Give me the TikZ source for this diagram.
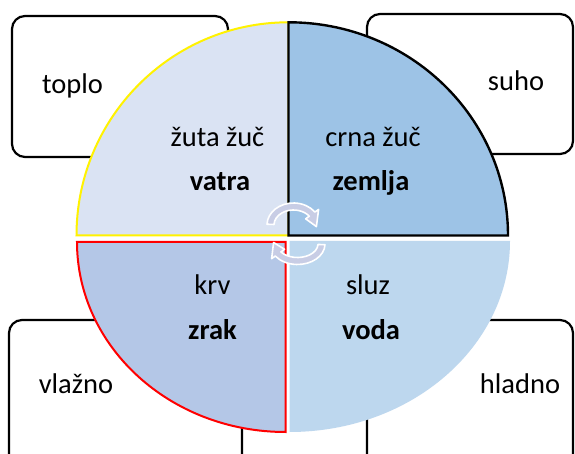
\documentclass[tikz,border=0pt]{standalone}
\usepackage{fontspec}
\setmainfont{Carlito}
\usetikzlibrary{calc}
\definecolor{qtl}{HTML}{DAE3F3}
\definecolor{qtr}{HTML}{9DC3E6}
\definecolor{qbl}{HTML}{B4C7E7}
\definecolor{qbr}{HTML}{BDD7EE}
\definecolor{cycfill}{HTML}{C8CDE5}
\begin{document}
\begin{tikzpicture}[x=1pt,y=1pt,
  box/.style={draw=black, line width=2.2pt, rounded corners=13pt, fill=white, inner sep=0pt},
  lbl/.style={font=\fontsize{28.5}{34}\selectfont, anchor=base, inner sep=0pt},
  blbl/.style={font=\fontsize{28.5}{34}\selectfont\bfseries, anchor=base, inner sep=0pt},
  cyc/.style={fill=cycfill, draw=white, line width=1.6pt, line join=round}]
\clip (0,0) rectangle (575,454);
\fill[white] (0,0) rectangle (575,454);
% corner boxes
\node[box, minimum width=216pt, minimum height=141pt] (btl) at (120,367.5) {};
\node[box, minimum width=206pt, minimum height=140pt] (btr) at (470,370) {};
\node[box, minimum width=233pt, minimum height=150pt] (bbl) at (125.5,59) {};
\node[box, minimum width=206pt, minimum height=150pt] (bbr) at (470,59) {};
% quadrants
\fill[qbr] (289.5,213) -- ++(220.5,0) arc[start angle=0,end angle=-90,x radius=220.5,y radius=191] -- cycle;
\filldraw[fill=qbl, draw=red, line width=2pt, line join=miter] (285.5,212) -- ++(-208.5,0) arc[start angle=180,end angle=270,x radius=208.5,y radius=190] -- cycle;
\filldraw[fill=qtl, draw=yellow, line width=2pt, line join=miter] (288.5,218.5) -- ++(-212,0) arc[start angle=180,end angle=90,x radius=212,y radius=213.2] -- cycle;
\filldraw[fill=qtr, draw=black, line width=2.4pt, line join=miter] (288.5,218.5) -- ++(0,213.2) arc[start angle=90,end angle=0,x radius=219.5,y radius=213.2] -- cycle;
% cycle arrows
\coordinate (cu) at (293.5,229);
\coordinate (cl) at (297.5,210);
\path[cyc] ($(cu)+(178:26.5 and 22)$) arc[start angle=178,end angle=36,x radius=26.5,y radius=22]
  -- ($(cu)+(36:31 and 26.5)$) -- ($(cu)+(-5:23 and 18.5)$) -- ($(cu)+(36:15 and 10.5)$)
  -- ($(cu)+(36:19.5 and 15)$) arc[start angle=36,end angle=178,x radius=19.5,y radius=15] -- cycle;
\path[cyc] ($(cl)+(-2:27.5 and 20.5)$) arc[start angle=-2,end angle=-144,x radius=27.5,y radius=20.5]
  -- ($(cl)+(-144:32 and 25)$) -- ($(cl)+(-185:24 and 17)$) -- ($(cl)+(-144:16 and 9)$)
  -- ($(cl)+(-144:20.5 and 13.5)$) arc[start angle=-144,end angle=-2,x radius=20.5,y radius=13.5] -- cycle;
% labels
\node[lbl] (ttoplo) at (72.5,360.7) {toplo};
\node[lbl] (tsuho) at (516,363.3) {suho};
\node[lbl] (tvlazno) at (76,60.7) {vlažno};
\node[lbl] (thladno) at (520,60.7) {hladno};
\node[lbl] (tzuta) at (217.5,307.3) {žuta žuč};
\node[blbl] (tvatra) at (220,263) {vatra};
\node[lbl] (tcrna) at (373,307.3) {crna žuč};
\node[blbl] (tzemlja) at (371,263) {zemlja};
\node[lbl] (tkrv) at (212.5,159) {krv};
\node[blbl] (tzrak) at (212.5,114) {zrak};
\node[lbl] (tsluz) at (368,159) {sluz};
\node[blbl] (tvoda) at (371,114) {voda};
\end{tikzpicture}
\end{document}
